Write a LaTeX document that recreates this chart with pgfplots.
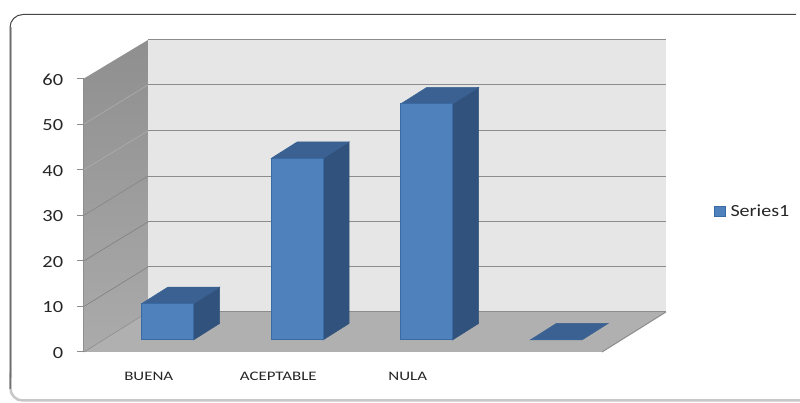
\documentclass[border=0pt]{standalone}
\usepackage{graphicx}
\usepackage{pgfplots}
\pgfplotsset{compat=1.18}
\usepackage{fontspec}
\setmainfont{Carlito}
\definecolor{txt}{HTML}{262626}
\definecolor{axisgrey}{HTML}{8C8C8C}
\definecolor{backwall}{HTML}{E6E6E6}
\definecolor{floorc}{HTML}{B0B0B0}
\definecolor{barfront}{HTML}{4F81BD}
\definecolor{baredge}{HTML}{3A6AA3}
\definecolor{bartop}{HTML}{3B6192}
\definecolor{barside}{HTML}{31527C}
\pgfplotstableread{
pos v
0.645 8
1.645 40
2.645 52
3.645 0
}\bardata
\begin{document}
\begin{tikzpicture}
\useasboundingbox (0,0) rectangle (800pt,403pt);
% chart-area frame
\begin{scope}[x=1pt,y=1pt]
\fill[white] (0,0) rectangle (800,403);
\draw[line width=2.5pt,color=black!22,rounded corners=12pt] (800,2.5) -- (10.5,2.5) -- (10.5,30);
\draw[line width=2.2pt,color=black!30] (11.2,25) -- (11.2,376);
\draw[line width=1pt,color=black!72,rounded corners=13pt] (10,14) -- (10,388.5) -- (796,388.5);
\end{scope}
% walls, floor, value axis, category axis
\begin{axis}[
  at={(84pt,51pt)}, anchor=south west,
  scale only axis, width=518pt, height=273.5pt,
  xmin=0, xmax=4, ymin=0, ymax=60,
  clip=false,
  axis x line*=bottom, axis y line*=left,
  axis line style={axisgrey,line width=1pt,-},
  xtick={0.5,1.5,2.5,3.5},
  xticklabels={BUENA,ACEPTABLE,NULA,},
  minor xtick={0,1,2,3,4},
  ytick={0,10,...,60},
  tick align=outside,
  major tick length=7pt, minor tick length=6pt,
  xtick style={draw=none},
  ytick style={axisgrey,line width=1pt},
  minor tick style={axisgrey,line width=1pt},
  every x tick/.style={draw=none},
  every minor x tick/.style={axisgrey,line width=1pt},
  xticklabel style={font=\fontsize{13}{14}\selectfont, text=txt, yshift=-10pt, xscale=1.3},
  yticklabel style={font=\fontsize{17}{18}\selectfont, text=txt, xscale=1.2, xshift=-8pt, yshift=-1pt},
  /pgf/number format/assume math mode=true,
]
\addplot[fill=backwall,draw=none,forget plot] coordinates {(0.494,8.78)(4.494,8.78)(4.494,68.45)(0.494,68.45)} -- cycle;
\addplot[top color=black!44,bottom color=black!33,draw=none,forget plot] coordinates {(0,0)(0.494,8.78)(0.494,68.45)(0,60)} -- cycle;
\addplot[fill=floorc,draw=none,forget plot] coordinates {(0,0)(4,0)(4.494,8.78)(0.494,8.78)} -- cycle;
\addplot[axisgrey,line width=1pt,forget plot] coordinates {(0.494,8.78)(4.494,8.78)};
\addplot[axisgrey,line width=1pt,forget plot] coordinates {(0.494,18.65)(4.494,18.65)};
\addplot[axisgrey,line width=1pt,forget plot] coordinates {(0.494,28.52)(4.494,28.52)};
\addplot[axisgrey,line width=1pt,forget plot] coordinates {(0.494,38.6)(4.494,38.6)};
\addplot[axisgrey,line width=1pt,forget plot] coordinates {(0.494,48.5)(4.494,48.5)};
\addplot[axisgrey,line width=1pt,forget plot] coordinates {(0.494,58.6)(4.494,58.6)};
\addplot[axisgrey,line width=1pt,forget plot] coordinates {(0.494,68.45)(4.494,68.45)};
\addplot[black!50,line width=0.6pt,forget plot] coordinates {(0,10)(0.494,18.65)};
\addplot[black!50,line width=0.6pt,forget plot] coordinates {(0,20)(0.494,28.52)};
\addplot[black!48,line width=0.6pt,forget plot] coordinates {(0,30)(0.494,38.6)};
\addplot[black!32,line width=0.6pt,forget plot] coordinates {(0,40)(0.494,48.5)};
\addplot[black!32,line width=0.6pt,forget plot] coordinates {(0,50)(0.494,58.6)};
\addplot[axisgrey,line width=1pt,forget plot] coordinates {(4,0)(4.494,8.78)};
\addplot[axisgrey,line width=0.6pt,forget plot] coordinates {(0,0)(0.494,8.78)};
\end{axis}
% the bars, standing on the plane behind the front of the floor
\begin{axis}[
  at={(84pt,51pt)}, anchor=south west,
  scale only axis, width=518pt, height=273.5pt,
  xmin=0, xmax=4, ymin=-2.643, ymax=57.6,
  clip=false, hide axis,
  legend style={at={(axis cs:4.865,28.4)},anchor=west,draw=none,fill=none,inner sep=0pt,outer sep=0pt,
    font=\fontsize{17}{18}\selectfont, text=txt, legend cell align=left,
    /tikz/every even column/.append style={column sep=0pt}},
]
\addplot[barside,fill=barside,line width=0.5pt,forget plot] coordinates {(0.845,0)(1.048,3.66)(1.048,11.66)(0.845,8)} -- cycle;
\addplot[bartop,fill=bartop,line width=0.5pt,forget plot] coordinates {(0.445,8)(0.648,11.66)(1.048,11.66)(0.845,8)} -- cycle;
\addplot[barside,fill=barside,line width=0.5pt,forget plot] coordinates {(1.845,0)(2.048,3.66)(2.048,43.66)(1.845,40)} -- cycle;
\addplot[bartop,fill=bartop,line width=0.5pt,forget plot] coordinates {(1.445,40)(1.648,43.66)(2.048,43.66)(1.845,40)} -- cycle;
\addplot[barside,fill=barside,line width=0.5pt,forget plot] coordinates {(2.845,0)(3.048,3.66)(3.048,55.66)(2.845,52)} -- cycle;
\addplot[bartop,fill=bartop,line width=0.5pt,forget plot] coordinates {(2.445,52)(2.648,55.66)(3.048,55.66)(2.845,52)} -- cycle;
\addplot[bartop,fill=bartop,line width=0.5pt,forget plot] coordinates {(3.445,0)(3.648,3.66)(4.048,3.66)(3.845,0)} -- cycle;
\addplot[ybar, bar shift=0pt, bar width=52pt, fill=barfront, draw=baredge, line width=1pt,
  legend image code/.code={\draw[fill=barfront,draw=baredge,line width=1pt] (0pt,-5pt) rectangle (10.5pt,5pt);}]
  table[x=pos,y=v] {\bardata};
\addlegendentry{\hspace{3pt}\scalebox{1.18}[1]{Series1}}
\end{axis}
\end{tikzpicture}
\end{document}
